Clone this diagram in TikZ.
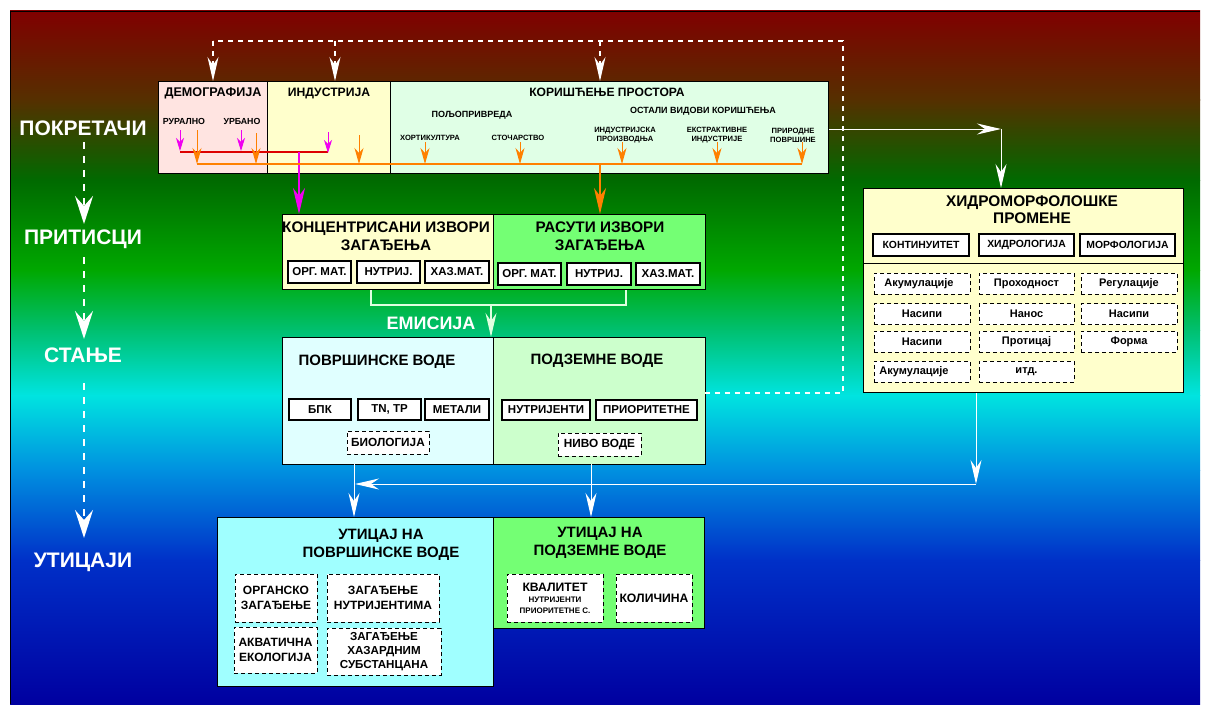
\documentclass[tikz,border=0pt]{standalone}
\usepackage{fontspec}
\setmainfont{Liberation Sans}
\usetikzlibrary{arrows.meta}
\definecolor{g0}{HTML}{800000}
\definecolor{g1}{HTML}{553000}
\definecolor{g2}{HTML}{006A00}
\definecolor{g3}{HTML}{00A800}
\definecolor{g4}{HTML}{00C070}
\definecolor{g5}{HTML}{00E4E0}
\definecolor{g6}{HTML}{0090E0}
\definecolor{g7}{HTML}{0030C8}
\definecolor{g8}{HTML}{0000A0}
\definecolor{cDem}{HTML}{FFE4E1}
\definecolor{cInd}{HTML}{FFFFCC}
\definecolor{cKor}{HTML}{E0FFE6}
\definecolor{cRas}{HTML}{74FF74}
\definecolor{cPov}{HTML}{E0FFFF}
\definecolor{cPod}{HTML}{CCFFCC}
\definecolor{cUtP}{HTML}{A0FFFF}
\definecolor{cMag}{HTML}{F000F0}
\definecolor{cRed}{HTML}{DD0000}
\definecolor{cOra}{HTML}{FF8000}
\definecolor{cEmi}{HTML}{E0FFE0}
\newcommand{\fsz}[2]{\fontsize{#1}{#2}\selectfont}
\begin{document}
\begin{tikzpicture}[x=1pt,y=-1pt,
  bigbox/.style={draw=black, line width=1.3pt, inner sep=0pt, anchor=north west},
  sbox/.style={draw=black, line width=1.6pt, fill=white, inner sep=0pt, font=\bfseries\fsz{11.5}{12}},
  dbox/.style={draw=black, line width=0.8pt, dash pattern=on 4pt off 3pt, fill=white, inner sep=0pt, align=center},
  ttl/.style={font=\bfseries\fsz{15.3}{18}, align=center, inner sep=0pt},
  sml/.style={font=\bfseries\fsz{7.6}{9}, align=center, inner sep=0pt},
  stage/.style={font=\bfseries\fsz{21}{22}, text=white, inner sep=0pt},
  whead/.style={-{Stealth[length=24pt,width=11pt,inset=8pt]}},
  bhead/.style={-{Stealth[length=26pt,width=12pt,inset=8pt]}},
  ohead/.style={-{Stealth[length=16pt,width=9pt,inset=5pt]}},
  mhead/.style={-{Stealth[length=13pt,width=8pt,inset=4pt]}},
  wline/.style={draw=white, line width=1pt},
  tdash/.style={draw=white, line width=1.2pt, dash pattern=on 5pt off 5pt},
  ldash/.style={draw=white, line width=2.5pt, dash pattern=on 7pt off 7pt}
]
\useasboundingbox (0,0) rectangle (1206,706);
\fill[white] (0,0) rectangle (1206,706);
% background gradient
\shade[top color=g0, bottom color=g1] (10,11) rectangle (1200,100.5);
\shade[top color=g1, bottom color=g2] (10,100) rectangle (1200,180.5);
\shade[top color=g2, bottom color=g3] (10,180) rectangle (1200,270.5);
\shade[top color=g3, bottom color=g4] (10,270) rectangle (1200,330.5);
\shade[top color=g4, bottom color=g5] (10,330) rectangle (1200,395.5);
\shade[top color=g5, bottom color=g6] (10,395) rectangle (1200,470.5);
\shade[top color=g6, bottom color=g7] (10,470) rectangle (1200,560.5);
\shade[top color=g7, bottom color=g8] (10,560) rectangle (1200,704);
\draw[black, line width=0.8pt] (10,704) -- (10,11) -- (1200,11);

% stage labels
\node[stage] (sPok) at (83,128) {ПОКРЕТАЧИ};
\node[stage] (sPri) at (83,239) {ПРИТИСЦИ};
\node[stage] (sSta) at (83,355) {СТАЊЕ};
\node[stage] (sUti) at (83,562) {УТИЦАЈИ};
\coordinate (a1) at (84,142); \coordinate (a2) at (84,224);
\coordinate (a3) at (84,257); \coordinate (a4) at (84,339);
\coordinate (a5) at (84,383); \coordinate (a6) at (84,538);
\tikzset{lhead/.style={-{Stealth[length=28pt,width=18pt,inset=10pt]}}}
\draw[ldash, lhead] (a1) -- (a2);
\draw[ldash, lhead] (a3) -- (a4);
\draw[ldash, lhead] (a5) -- (a6);

% top row
\node[bigbox, fill=cDem, minimum width=109, minimum height=92] (dem) at (158,81) {};
\node[bigbox, fill=cInd, minimum width=123, minimum height=92] (ind) at (267,81) {};
\node[bigbox, fill=cKor, minimum width=438, minimum height=92] (kor) at (390,81) {};
\node[font=\bfseries\fsz{12.6}{14}, inner sep=0pt] (tDem) at (213,93) {ДЕМОГРАФИЈА};
\node[font=\bfseries\fsz{12.2}{14}, inner sep=0pt] (tInd) at (329,93) {ИНДУСТРИЈА};
\node[font=\bfseries\fsz{12.1}{14}, inner sep=0pt] (tKor) at (607,92) {КОРИШЋЕЊЕ ПРОСТОРА};
\node[font=\bfseries\fsz{9}{10}, inner sep=0pt] (tPol) at (472,115) {ПОЉОПРИВРЕДА};
\node[font=\bfseries\fsz{9}{10}, inner sep=0pt] (tOst) at (703,111) {ОСТАЛИ ВИДОВИ КОРИШЋЕЊА};
\node[font=\bfseries\fsz{8.8}{10}, inner sep=0pt] (tRur) at (184,121) {РУРАЛНО};
\node[font=\bfseries\fsz{8.8}{10}, inner sep=0pt] (tUrb) at (242,121) {УРБАНО};
\node[sml] (tHor) at (430,138) {ХОРТИКУЛТУРА};
\node[sml] (tSto) at (518,138) {СТОЧАРСТВО};
\node[sml] (tIpr) at (625,135) {ИНДУСТРИЈСКА\\ПРОИЗВОДЊА};
\node[sml] (tEks) at (717,135) {ЕКСТРАКТИВНЕ\\ИНДУСТРИЈЕ};
\node[sml] (tPrp) at (793,135) {ПРИРОДНЕ\\ПОВРШИНЕ};

% pressure row
\node[bigbox, fill=cInd, minimum width=211, minimum height=75] (kon) at (282,214) {};
\node[bigbox, fill=cRas, minimum width=212, minimum height=75] (ras) at (493,214) {};
\node[ttl] (tKon) at (386,236) {КОНЦЕНТРИСАНИ ИЗВОРИ\\ЗАГАЂЕЊА};
\node[ttl] (tRas) at (600,236) {РАСУТИ ИЗВОРИ\\ЗАГАЂЕЊА};
\node[sbox, minimum width=63, minimum height=22] (k1) at (319.5,272) {ОРГ. МАТ.};
\node[sbox, minimum width=63, minimum height=22] (k2) at (388.5,272) {НУТРИЈ.};
\node[sbox, minimum width=64, minimum height=22] (k3) at (457,272) {ХАЗ.МАТ.};
\node[sbox, minimum width=63, minimum height=22] (r1) at (529.5,274) {ОРГ. МАТ.};
\node[sbox, minimum width=64, minimum height=22] (r2) at (599,274) {НУТРИЈ.};
\node[sbox, minimum width=64, minimum height=22] (r3) at (668,274) {ХАЗ.МАТ.};

% state row
\node[bigbox, fill=cPov, minimum width=211, minimum height=127] (pov) at (282,337) {};
\node[bigbox, fill=cPod, minimum width=212, minimum height=127] (pod) at (493,337) {};
\node[font=\bfseries\fsz{15}{16}, inner sep=0pt] (tPov) at (377,362) {ПОВРШИНСКЕ ВОДЕ};
\node[font=\bfseries\fsz{15}{16}, inner sep=0pt] (tPod) at (597,361) {ПОДЗЕМНЕ ВОДЕ};
\node[sbox, minimum width=62, minimum height=21] (p1) at (320,409.5) {БПК};
\node[sbox, minimum width=63, minimum height=21] (p2) at (389.5,409.5) {TN, TP};
\node[sbox, minimum width=64, minimum height=21] (p3) at (457,409.5) {МЕТАЛИ};
\node[sbox, minimum width=88, minimum height=20] (q1) at (546,410) {НУТРИЈЕНТИ};
\node[sbox, minimum width=101, minimum height=20] (q2) at (646.5,410) {ПРИОРИТЕТНЕ};
\node[dbox, font=\bfseries\fsz{11.8}{12}, minimum width=82, minimum height=23] (p4) at (388,442.5) {БИОЛОГИЈА};
\node[dbox, font=\bfseries\fsz{11.8}{12}, minimum width=83, minimum height=23] (q3) at (599.5,444.5) {НИВО ВОДЕ};

% impact row
\node[bigbox, fill=cUtP, minimum width=276, minimum height=169] (utp) at (217,517) {};
\node[bigbox, fill=cRas, minimum width=211, minimum height=111] (utg) at (493,517) {};
\node[ttl, font=\bfseries\fsz{15}{17.5}] (tUtp) at (381,545) {УТИЦАЈ НА\\ПОВРШИНСКЕ ВОДЕ};
\node[ttl, font=\bfseries\fsz{15}{17.5}] (tUtg) at (600,543) {УТИЦАЈ НА\\ПОДЗЕМНЕ ВОДЕ};
\node[dbox, font=\bfseries\fsz{12}{15}, minimum width=82, minimum height=48] (u1) at (276,598) {ОРГАНСКО\\ЗАГАЂЕЊЕ};
\node[dbox, font=\bfseries\fsz{12}{15}, minimum width=112, minimum height=48] (u2) at (383,598) {ЗАГАЂЕЊЕ\\НУТРИЈЕНТИМА};
\node[dbox, font=\bfseries\fsz{12}{15}, minimum width=83, minimum height=46] (u3) at (275.5,650) {АКВАТИЧНА\\ЕКОЛОГИЈА};
\node[dbox, font=\bfseries\fsz{11.6}{13.6}, minimum width=114, minimum height=47] (u4) at (384,651.5) {ЗАГАЂЕЊЕ\\ХАЗАРДНИМ\\СУБСТАНЦАНА};
\node[dbox, minimum width=96, minimum height=48] (g1b) at (555,598) {{\bfseries\fsz{12.2}{12}КВАЛИТЕТ}\\[-1pt]{\bfseries\fsz{8}{11}НУТРИЈЕНТИ}\\[-1pt]{\bfseries\fsz{8}{11}ПРИОРИТЕТНЕ С.}};
\node[dbox, font=\bfseries\fsz{12.2}{13}, minimum width=76, minimum height=48] (g2b) at (654,598) {КОЛИЧИНА};

% hydromorphology
\node[bigbox, fill=cInd, minimum width=320, minimum height=204] (hyd) at (863,188) {};
\draw[black, line width=1pt] (863,263) -- (1183,263);
\node[ttl, font=\bfseries\fsz{15.4}{17}] (tHyd) at (1032,210) {ХИДРОМОРФОЛОШКЕ\\ПРОМЕНЕ};
\node[sbox, font=\bfseries\fsz{10.4}{11}, minimum width=96, minimum height=22] (h1) at (921,245) {КОНТИНУИТЕТ};
\node[sbox, font=\bfseries\fsz{10.4}{11}, minimum width=95, minimum height=22] (h2) at (1026.5,245) {ХИДРОЛОГИЈА};
\node[sbox, font=\bfseries\fsz{10.4}{11}, minimum width=95, minimum height=22] (h3) at (1127.5,245) {МОРФОЛОГИЈА};
\tikzset{hd/.style={dbox, font=\bfseries\fsz{11}{12}, minimum height=21}}
\node[hd, minimum width=96] (d11) at (922,283.5) {Акумулације\hspace{6pt}};
\node[hd, minimum width=95] (d12) at (1026.5,283.5) {Проходност};
\node[hd, minimum width=96] (d13) at (1129,283.5) {Регулације};
\node[hd, minimum width=96] (d21) at (922,314) {Насипи};
\node[hd, minimum width=95] (d22) at (1026.5,314) {Нанос};
\node[hd, minimum width=96] (d23) at (1129,314) {Насипи};
\node[hd, minimum width=96] (d31) at (922,341.5) {Насипи};
\node[hd, minimum width=95] (d32) at (1026.5,341.5) {Протицај};
\node[hd, minimum width=96] (d33) at (1129,341.5) {Форма};
\node[hd, minimum width=96] (d41) at (922,371.5) {Акумулације\hspace{16pt}};
\node[hd, minimum width=95] (d42) at (1026.5,371.5) {итд.};

% drivers connectors
\coordinate (m1s) at (180,130); \coordinate (m1e) at (180,151);
\coordinate (m2s) at (241,130); \coordinate (m2e) at (241,151);
\coordinate (m3s) at (328,132); \coordinate (m3e) at (328,153);
\coordinate (rL) at (180,152); \coordinate (rR) at (328,152);
\coordinate (mJ) at (299,152);
\draw[cRed, line width=1.3pt] (rL) -- (rR);
\draw[cMag, line width=1pt, mhead] (m1s) -- (m1e);
\draw[cMag, line width=1pt, mhead] (m2s) -- (m2e);
\draw[cMag, line width=1pt, mhead] (m3s) -- (m3e);
\draw[cMag, line width=1.2pt, bhead] (mJ) -- (kon.north west -| mJ);
\coordinate (oL) at (197,164); \coordinate (oR) at (802,164);
\draw[cOra, line width=1.3pt] (oL) -- (oR);
\foreach \x/\y in {197/130,256/133,359/135,425/142,520/142,622/142,717/142,802/142}
  \draw[cOra, line width=1pt, ohead] (\x,\y) -- (\x,164);
\coordinate (oJ) at (600,164);
\draw[cOra, line width=1.2pt, bhead] (oJ) -- (ras.north west -| oJ);

% top dashed feedback
\coordinate (fb0) at (705,393); \coordinate (fb1) at (843,393);
\coordinate (fb2) at (843,41); \coordinate (fb3) at (213,41);
\coordinate (fbI) at (335,41); \coordinate (fbK) at (600,41);
\draw[tdash] (fb0) -- (fb1) -- (fb2) -- (fb3);
\draw[tdash, whead] (fb3) -- (dem.north west -| fb3);
\draw[tdash, whead] (fbI) -- (ind.north west -| fbI);
\draw[tdash, whead] (fbK) -- (kor.north west -| fbK);

% to hydromorphology
\coordinate (hk) at (1001,129);
\draw[wline, whead] (kor.east |- hk) -- (hk);
\draw[wline, whead] (hk) -- (hyd.north west -| hk);

% emission
\coordinate (e1) at (371,305); \coordinate (e2) at (626,305); \coordinate (e3) at (491,305);
\draw[cEmi, line width=1.2pt] (kon.south west -| e1) -- (e1) -- (e2) -- (ras.south west -| e2);
\draw[cEmi, line width=1.2pt, whead] (e3) -- (pov.north west -| e3);
\node[font=\bfseries\fsz{18}{19}, text=white, inner sep=0pt] (tEmi) at (431,323) {ЕМИСИЈА};

% state to impact
\coordinate (s1) at (354,464); \coordinate (s2) at (591,464);
\draw[wline, whead] (s1) -- (utp.north west -| s1);
\draw[wline, whead] (s2) -- (utg.north west -| s2);
\coordinate (hy) at (976,484); \coordinate (hL) at (355,484);
\draw[wline, whead] (hyd.south west -| hy) -- (hy);
\draw[wline, whead] (hy) -- (hL);
\end{tikzpicture}
\end{document}
